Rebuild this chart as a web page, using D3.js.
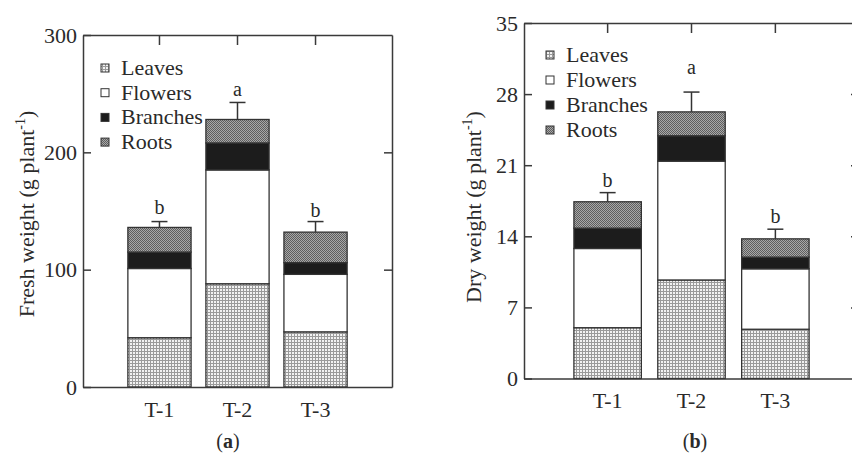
<!DOCTYPE html>
<html>
<head>
<meta charset="utf-8">
<script src="https://cdn.jsdelivr.net/npm/d3@7"></script>
<style>
  html, body { margin: 0; padding: 0; background: #fff; }
  svg { display: block; }
  text { font-family: "Liberation Serif", "Times New Roman", serif; fill: #2a2a2a; }
</style>
</head>
<body>
<svg id="chart" width="852" height="456"></svg>
<script>
// ---------- data ----------
const categories = ["T-1", "T-2", "T-3"];
const seriesNames = ["Leaves", "Flowers", "Branches", "Roots"];

// Fresh weight (g plant-1)
const freshLeaves   = [42, 88, 47];
const freshFlowers  = [59, 97, 49];
const freshBranches = [14, 23, 10];
const freshRoots    = [21, 20, 26];
const freshError    = [5, 14.5, 9];
const freshLetters  = ["b", "a", "b"];
const freshTicks    = [0, 100, 200, 300];

// Dry weight (g plant-1)
const dryLeaves   = [5.0, 9.7, 4.85];
const dryFlowers  = [7.8, 11.7, 5.95];
const dryBranches = [2.0, 2.5, 1.15];
const dryRoots    = [2.6, 2.35, 1.8];
const dryError    = [0.9, 1.95, 0.95];
const dryLetters  = ["b", "a", "b"];
const dryTicks    = [0, 7, 14, 21, 28, 35];

// ---------- drawing ----------
const svg = d3.select("#chart");
const defs = svg.append("defs");

// Leaves: fine light grid
const pL = defs.append("pattern").attr("id", "patLeaves").attr("patternUnits", "userSpaceOnUse")
  .attr("width", 3).attr("height", 3);
pL.append("rect").attr("width", 3).attr("height", 3).attr("fill", "#f2f2f2");
pL.append("rect").attr("x", 0).attr("y", 0).attr("width", 3).attr("height", 1).attr("fill", "#9a9a9a");
pL.append("rect").attr("x", 0).attr("y", 0).attr("width", 1).attr("height", 3).attr("fill", "#9a9a9a");

// Roots: darker dotted checker
const pR = defs.append("pattern").attr("id", "patRoots").attr("patternUnits", "userSpaceOnUse")
  .attr("width", 2).attr("height", 2);
pR.append("rect").attr("width", 2).attr("height", 2).attr("fill", "#a8a8a8");
pR.append("rect").attr("x", 0).attr("y", 0).attr("width", 1).attr("height", 1).attr("fill", "#5e5e5e");
pR.append("rect").attr("x", 1).attr("y", 1).attr("width", 1).attr("height", 1).attr("fill", "#5e5e5e");

const fills = {
  Leaves: "url(#patLeaves)",
  Flowers: "#ffffff",
  Branches: "#1c1c1c",
  Roots: "url(#patRoots)"
};

const axisColor = "#3a3a3a";

function drawPanel(cfg) {
  const g = svg.append("g");
  const x = d3.scaleBand().domain(categories)
    .range([cfg.left, cfg.right]).paddingInner(cfg.pi).paddingOuter(cfg.po);
  const y = d3.scaleLinear().domain([0, cfg.max]).range([cfg.bottom, cfg.top]);

  const rows = categories.map((c, i) => {
    const o = { cat: c };
    seriesNames.forEach((s, k) => { o[s] = cfg.values[k][i]; });
    return o;
  });
  const stacked = d3.stack().keys(seriesNames)(rows);

  // bars
  stacked.forEach(layer => {
    g.append("g").selectAll("rect").data(layer).join("rect")
      .attr("x", d => x(d.data.cat))
      .attr("y", d => y(d[1]))
      .attr("width", x.bandwidth())
      .attr("height", d => y(d[0]) - y(d[1]))
      .attr("fill", fills[layer.key])
      .attr("stroke", "#333")
      .attr("stroke-width", 1.3);
  });

  // error bars
  const totals = rows.map(r => seriesNames.reduce((a, s) => a + r[s], 0));
  const eg = g.append("g").attr("stroke", "#333").attr("stroke-width", 1.5);
  categories.forEach((c, i) => {
    const cx = x(c) + x.bandwidth() / 2;
    eg.append("line").attr("x1", cx).attr("x2", cx)
      .attr("y1", y(totals[i])).attr("y2", y(totals[i] + cfg.err[i]));
    eg.append("line").attr("x1", cx - 8).attr("x2", cx + 8)
      .attr("y1", y(totals[i] + cfg.err[i])).attr("y2", y(totals[i] + cfg.err[i]));
    g.append("text").attr("x", cx).attr("y", y(totals[i] + cfg.err[i]) - cfg.letterOff[i])
      .attr("text-anchor", "middle").attr("font-size", 20).text(cfg.letters[i]);
  });

  // axes
  const yAx = g.append("g").attr("transform", `translate(${cfg.left},0)`)
    .call(d3.axisLeft(y).tickValues(cfg.ticks).tickSizeInner(-8).tickSizeOuter(0).tickPadding(6));
  yAx.select(".domain").attr("stroke", axisColor).attr("stroke-width", 1.5);
  yAx.selectAll(".tick line").attr("stroke", axisColor).attr("stroke-width", 1.5);
  yAx.selectAll(".tick text").attr("font-size", 22).attr("font-family", "Liberation Serif, serif").attr("fill", "#2a2a2a");

  const yR = g.append("g").attr("transform", `translate(${cfg.right},0)`)
    .call(d3.axisRight(y).tickValues(cfg.ticks.slice(1, -1)).tickSizeInner(-8).tickSizeOuter(0).tickFormat(""));
  yR.select(".domain").attr("stroke", axisColor).attr("stroke-width", 1.5);
  yR.selectAll(".tick line").attr("stroke", axisColor).attr("stroke-width", 1.5);

  const xT = g.append("g").attr("transform", `translate(0,${cfg.top})`)
    .call(d3.axisTop(x).tickSizeInner(-10).tickSizeOuter(0).tickFormat(""));
  xT.select(".domain").attr("stroke", axisColor).attr("stroke-width", 1.5);
  xT.selectAll(".tick line").attr("stroke", axisColor).attr("stroke-width", 1.5);

  const xB = g.append("g").attr("transform", `translate(0,${cfg.bottom})`)
    .call(d3.axisBottom(x).tickSize(0).tickPadding(cfg.catPad));
  xB.select(".domain").attr("stroke", axisColor).attr("stroke-width", 1.5);
  xB.selectAll(".tick text").attr("font-size", 22).attr("font-family", "Liberation Serif, serif").attr("fill", "#2a2a2a");

  // y title
  const t = g.append("text")
    .attr("transform", `translate(${cfg.titleX},${cfg.titleY}) rotate(-90)`)
    .attr("text-anchor", "middle").attr("font-size", 22);
  t.append("tspan").text(cfg.title + " (g plant");
  t.append("tspan").attr("font-size", 14).attr("dy", -9).text("-1");
  t.append("tspan").attr("dy", 9).text(")");

  // legend
  const lg = g.append("g");
  seriesNames.forEach((s, k) => {
    const yy = cfg.legY + k * cfg.legStep;
    lg.append("rect").attr("x", cfg.legX).attr("y", yy - 4).attr("width", 8).attr("height", 8)
      .attr("fill", fills[s]).attr("stroke", "#333").attr("stroke-width", 1);
    lg.append("text").attr("x", cfg.legX + 20).attr("y", yy + 7).attr("font-size", 22).text(s);
  });

  // panel label
  const pl = g.append("text").attr("x", cfg.panelX).attr("y", 448)
    .attr("text-anchor", "middle").attr("font-size", 20);
  pl.append("tspan").text("(");
  pl.append("tspan").attr("font-weight", "bold").text(cfg.panel);
  pl.append("tspan").text(")");
}

drawPanel({
  values: [freshLeaves, freshFlowers, freshBranches, freshRoots],
  err: freshError, letters: freshLetters, letterOff: [8, 6, 5], ticks: freshTicks, max: 300,
  left: 83, right: 392, top: 35, bottom: 387, pi: 0.19, po: 0.575,
  title: "Fresh weight", titleX: 34, titleY: 214,
  legX: 101, legY: 68, legStep: 24.7, panel: "a", panelX: 228, catPad: 14
});

drawPanel({
  values: [dryLeaves, dryFlowers, dryBranches, dryRoots],
  err: dryError, letters: dryLetters, letterOff: [6, 18, 6], ticks: dryTicks, max: 35,
  left: 524, right: 859, top: 23, bottom: 378.5, pi: 0.196, po: 0.595,
  title: "Dry weight", titleX: 481, titleY: 207,
  legX: 546, legY: 55, legStep: 25, panel: "b", panelX: 695, catPad: 14
});
</script>
</body>
</html>
